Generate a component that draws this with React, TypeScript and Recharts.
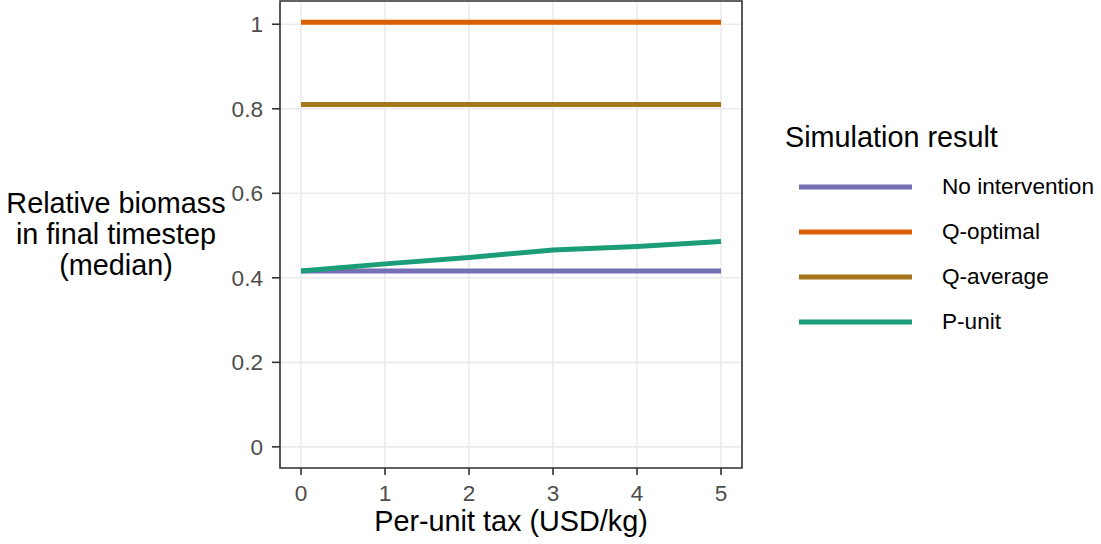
import {
  LineChart,
  Line,
  XAxis,
  YAxis,
  CartesianGrid,
  ReferenceArea,
  Legend,
} from "recharts";

const taxLevels = [0, 1, 2, 3, 4, 5];
const noIntervention = [0.416, 0.416, 0.416, 0.416, 0.416, 0.416];
const qOptimal = [1.005, 1.005, 1.005, 1.005, 1.005, 1.005];
const qAverage = [0.81, 0.81, 0.81, 0.81, 0.81, 0.81];
const pUnit = [0.416, 0.433, 0.448, 0.466, 0.474, 0.486];

const xTicks = [0, 1, 2, 3, 4, 5];
const yTicks = [0, 0.2, 0.4, 0.6, 0.8, 1];

const seriesNames = ["No intervention", "Q-optimal", "Q-average", "P-unit"];
const seriesColors = ["#7570b3", "#d95f02", "#a6761d", "#1b9e77"];

const data = taxLevels.map((tax, i) => ({
  tax,
  noIntervention: noIntervention[i],
  qOptimal: qOptimal[i],
  qAverage: qAverage[i],
  pUnit: pUnit[i],
}));

const keys = ["noIntervention", "qOptimal", "qAverage", "pUnit"];

const FONT = "'Liberation Sans', Arial, Helvetica, sans-serif";
const X_DOMAIN: [number, number] = [-0.25, 5.25];
const Y_DOMAIN: [number, number] = [-0.05, 1.055];

function LegendBox() {
  return (
    <div style={{ fontFamily: FONT, color: "#000", position: "relative", width: 331, height: 240 }}>
      <div style={{ position: "absolute", left: 15, top: 11, fontSize: 28.8, whiteSpace: "nowrap" }}>
        Simulation result
      </div>
      {seriesNames.map((name, i) => (
        <div key={name} style={{ position: "absolute", left: 29, top: 77 + i * 45 - 16, height: 32, display: "flex", alignItems: "center" }}>
          <svg width={113} height={32}>
            <line x1={0} x2={113} y1={16} y2={16} stroke={seriesColors[i]} strokeWidth={5} />
          </svg>
          <span style={{ marginLeft: 30, fontSize: 22.6, whiteSpace: "nowrap" }}>{name}</span>
        </div>
      ))}
    </div>
  );
}

// three-line title, left of the tick labels
function YTitle(props: any) {
  const vb = props.viewBox || { x: 0, y: 0, height: 0 };
  const cy = vb.y + vb.height / 2 - 0.5;
  const lines = ["Relative biomass", "in final timestep", "(median)"];
  return (
    <text x={116} y={cy} textAnchor="middle" fontSize={28.8} fill="#000" fontFamily={FONT}>
      {lines.map((l, i) => (
        <tspan key={l} x={116} y={cy + (i - 1) * 31} dy="0.35em">
          {l}
        </tspan>
      ))}
    </text>
  );
}

function XTitle(props: any) {
  const vb = props.viewBox || { x: 0, y: 0, width: 0 };
  return (
    <text x={vb.x + vb.width / 2} y={531} textAnchor="middle" fontSize={28.8} fill="#000" fontFamily={FONT}>
      Per-unit tax (USD/kg)
    </text>
  );
}

export default function App() {
  return (
    <div style={{ position: "absolute", left: 0, top: 0, width: 1101, height: 544, background: "#fff" }}>
      <LineChart
        width={1101}
        height={544}
        data={data}
        margin={{ top: 1, right: 359, bottom: 36, left: 200 }}
        style={{ fontFamily: FONT }}
      >
        <CartesianGrid stroke="#ebebeb" strokeWidth={1.6} />
        <XAxis
          dataKey="tax"
          type="number"
          domain={X_DOMAIN}
          ticks={xTicks}
          allowDataOverflow
          height={40}
          axisLine={false}
          tickLine={{ stroke: "#333", strokeWidth: 1.6 }}
          tickSize={7}
          tickMargin={10}
          tick={{ fill: "#4d4d4d", fontSize: 22.6 }}
          label={{ content: XTitle }}
        />
        <YAxis
          type="number"
          domain={Y_DOMAIN}
          ticks={yTicks}
          allowDataOverflow
          width={80}
          axisLine={false}
          tickLine={{ stroke: "#333", strokeWidth: 1.6 }}
          tickSize={8}
          tickMargin={9}
          tick={{ fill: "#4d4d4d", fontSize: 22.6 }}
          tickFormatter={(v: number) => String(v)}
          label={{ content: YTitle }}
        />
        {keys.map((k, i) => (
          <Line
            key={k}
            dataKey={k}
            name={seriesNames[i]}
            type="linear"
            stroke={seriesColors[i]}
            strokeWidth={5}
            dot={false}
            activeDot={false}
            isAnimationActive={false}
          />
        ))}
        <ReferenceArea
          x1={X_DOMAIN[0]}
          x2={X_DOMAIN[1]}
          y1={Y_DOMAIN[0]}
          y2={Y_DOMAIN[1]}
          fill="none"
          stroke="#333"
          strokeWidth={1.6}
          ifOverflow="visible"
        />
        <Legend
          layout="vertical"
          align="center"
          verticalAlign="middle"
          wrapperStyle={{ left: 770, top: 110, width: 331, height: 240 }}
          content={() => <LegendBox />}
        />
      </LineChart>
    </div>
  );
}
